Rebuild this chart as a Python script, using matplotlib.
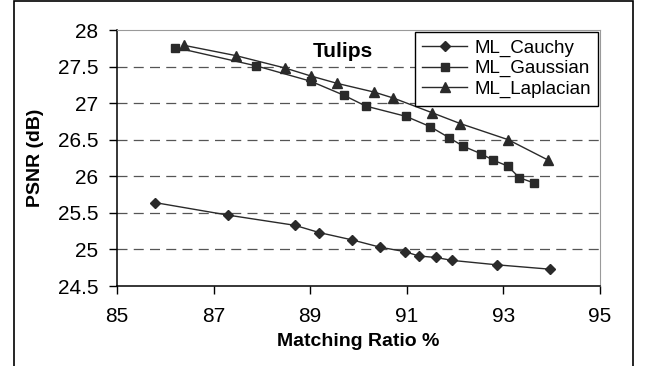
import matplotlib.pyplot as plt
from matplotlib.patches import Rectangle

# values
cauchy_x = [85.79, 87.29, 88.68, 89.19, 89.87, 90.45, 90.96, 91.25, 91.6, 91.94, 92.86, 93.96]
cauchy_y = [25.64, 25.47, 25.33, 25.23, 25.13, 25.03, 24.97, 24.91, 24.89, 24.85, 24.79, 24.73]

gauss_x = [86.21, 87.88, 89.01, 89.69, 90.15, 90.98, 91.48, 91.87, 92.17, 92.53, 92.79, 93.09, 93.33, 93.63]
gauss_y = [27.76, 27.51, 27.30, 27.11, 26.96, 26.82, 26.68, 26.53, 26.41, 26.31, 26.22, 26.14, 25.98, 25.91]

lap_x = [86.39, 87.46, 88.48, 89.02, 89.56, 90.33, 90.72, 91.52, 92.11, 93.10, 93.93]
lap_y = [27.79, 27.65, 27.48, 27.37, 27.27, 27.15, 27.07, 26.87, 26.72, 26.50, 26.22]

x_ticks = [85, 87, 89, 91, 93, 95]
y_ticks = [24.5, 25, 25.5, 26, 26.5, 27, 27.5, 28]

plt.rcParams['font.family'] = ['Liberation Sans', 'DejaVu Sans']

fig = plt.figure(figsize=(6.49, 3.66), dpi=100)
ax = fig.add_axes([117/649, 1 - 286/366, (600 - 117)/649, (286 - 30)/366])

# outer frame around the whole chart
fig.patches.append(Rectangle((14/649, -0.02), (633 - 14)/649, 1.02 - 1.5/366,
                             transform=fig.transFigure, fill=False,
                             edgecolor='black', linewidth=1.2))

for y in y_ticks[1:-1]:
  ax.axhline(y, color='#555555', linewidth=0.9, linestyle=(0, (8, 5)), zorder=1)

lc = '#2a2a2a'
ax.plot(cauchy_x, cauchy_y, color=lc, linewidth=1.0, marker='D', markersize=5,
        markerfacecolor=lc, markeredgecolor=lc, label='ML_Cauchy', zorder=3)
ax.plot(gauss_x, gauss_y, color=lc, linewidth=1.0, marker='s', markersize=6,
        markerfacecolor=lc, markeredgecolor=lc, label='ML_Gaussian', zorder=3)
ax.plot(lap_x, lap_y, color=lc, linewidth=1.0, marker='^', markersize=7,
        markerfacecolor=lc, markeredgecolor=lc, label='ML_Laplacian', zorder=3)

ax.set_xlim(85, 95)
ax.set_ylim(24.5, 28)
ax.set_xticks(x_ticks)
ax.set_yticks(y_ticks)
ax.set_yticklabels([f'{v:g}' for v in y_ticks])
ax.tick_params(axis='both', direction='out', length=5.5, width=1, labelsize=15, colors='black')
ax.tick_params(axis='y', pad=8)
ax.tick_params(axis='x', pad=9.5)

for s in ['top', 'right']:
  ax.spines[s].set_color('#9a9a9a')
for s in ['left', 'bottom']:
  ax.spines[s].set_color('black')
  ax.spines[s].set_linewidth(1.1)

ax.set_xlabel('Matching Ratio %', fontsize=14, fontweight='bold', labelpad=5)
ax.set_ylabel('PSNR (dB)', fontsize=14, fontweight='bold', labelpad=10)

ax.text(0.468, 0.955, 'Tulips', transform=ax.transAxes, fontsize=15,
        fontweight='bold', ha='center', va='top')

leg = ax.legend(loc='upper right', bbox_to_anchor=(1.0, 1.0), fontsize=13.5,
                frameon=True, fancybox=False, framealpha=1, edgecolor='black',
                borderpad=0.4, labelspacing=0.18, handlelength=2.4,
                handletextpad=0.35, borderaxespad=0.1)
leg.get_frame().set_linewidth(1.0)

plt.savefig('out.png', dpi=100)
